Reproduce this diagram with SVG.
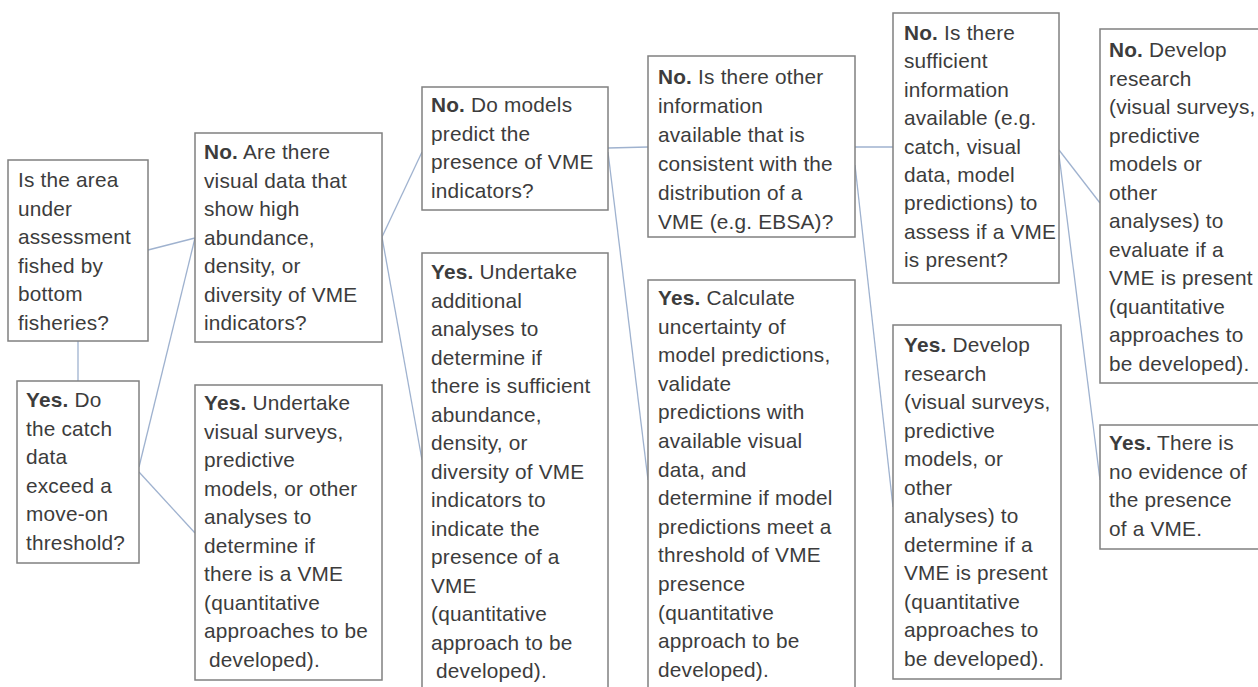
<svg xmlns="http://www.w3.org/2000/svg" width="1258" height="687" viewBox="0 0 1258 687">
<style>
.box{fill:#ffffff;stroke:#808080;stroke-width:1.5}
.lbl{font-family:"Liberation Sans",Arial,sans-serif;font-size:20.8px;letter-spacing:0.2px;fill:#3c3c3c}
.b{font-weight:bold}
.conn{stroke:#9fb2cf;stroke-width:1.3;fill:none}
</style>
<rect width="1258" height="687" fill="#ffffff"/>
<g id="connectors">
<line class="conn" x1="148" y1="250" x2="195" y2="238"/>
<line class="conn" x1="78" y1="341" x2="78" y2="381"/>
<line class="conn" x1="139" y1="467" x2="195" y2="238"/>
<line class="conn" x1="139" y1="472" x2="195" y2="533"/>
<line class="conn" x1="382" y1="237" x2="422" y2="152"/>
<line class="conn" x1="382" y1="237" x2="422" y2="460"/>
<line class="conn" x1="608" y1="148" x2="648" y2="147"/>
<line class="conn" x1="608" y1="152" x2="648" y2="480"/>
<line class="conn" x1="855" y1="147" x2="893" y2="147"/>
<line class="conn" x1="855" y1="165" x2="893" y2="507"/>
<line class="conn" x1="1059" y1="150" x2="1100" y2="203"/>
<line class="conn" x1="1059" y1="155" x2="1100" y2="480"/>
</g>
<g id="nodeA">
<rect class="box" x="8" y="160" width="140" height="181"/>
<text class="lbl" x="18" y="187"><tspan x="18">Is the area</tspan><tspan x="18" dy="28.5">under</tspan><tspan x="18" dy="28.5">assessment</tspan><tspan x="18" dy="28.5">fished by</tspan><tspan x="18" dy="28.5">bottom</tspan><tspan x="18" dy="28.5">fisheries?</tspan></text>
</g>
<g id="nodeB">
<rect class="box" x="195" y="133" width="187" height="209"/>
<text class="lbl" x="204" y="159"><tspan x="204" class="b">No.</tspan><tspan> Are there</tspan><tspan x="204" dy="28.5">visual data that</tspan><tspan x="204" dy="28.5">show high</tspan><tspan x="204" dy="28.5">abundance,</tspan><tspan x="204" dy="28.5">density, or</tspan><tspan x="204" dy="28.5">diversity of VME</tspan><tspan x="204" dy="28.5">indicators?</tspan></text>
</g>
<g id="nodeC">
<rect class="box" x="17" y="381" width="122" height="182"/>
<text class="lbl" x="26" y="407"><tspan x="26" class="b">Yes.</tspan><tspan> Do</tspan><tspan x="26" dy="28.5">the catch</tspan><tspan x="26" dy="28.5">data</tspan><tspan x="26" dy="28.5">exceed a</tspan><tspan x="26" dy="28.5">move-on</tspan><tspan x="26" dy="28.5">threshold?</tspan></text>
</g>
<g id="nodeD">
<rect class="box" x="195" y="385" width="187" height="295"/>
<text class="lbl" x="204" y="410"><tspan x="204" class="b">Yes.</tspan><tspan> Undertake</tspan><tspan x="204" dy="28.5">visual surveys,</tspan><tspan x="204" dy="28.5">predictive</tspan><tspan x="204" dy="28.5">models, or other</tspan><tspan x="204" dy="28.5">analyses to</tspan><tspan x="204" dy="28.5">determine if</tspan><tspan x="204" dy="28.5">there is a VME</tspan><tspan x="204" dy="28.5">(quantitative</tspan><tspan x="204" dy="28.5">approaches to be</tspan><tspan x="209" dy="28.5">developed).</tspan></text>
</g>
<g id="nodeE">
<rect class="box" x="422" y="87" width="186" height="123"/>
<text class="lbl" x="431" y="112"><tspan x="431" class="b">No.</tspan><tspan> Do models</tspan><tspan x="431" dy="28.5">predict the</tspan><tspan x="431" dy="28.5">presence of VME</tspan><tspan x="431" dy="28.5">indicators?</tspan></text>
</g>
<g id="nodeF">
<rect class="box" x="422" y="253" width="186" height="440"/>
<text class="lbl" x="431" y="279"><tspan x="431" class="b">Yes.</tspan><tspan> Undertake</tspan><tspan x="431" dy="28.5">additional</tspan><tspan x="431" dy="28.5">analyses to</tspan><tspan x="431" dy="28.5">determine if</tspan><tspan x="431" dy="28.5">there is sufficient</tspan><tspan x="431" dy="28.5">abundance,</tspan><tspan x="431" dy="28.5">density, or</tspan><tspan x="431" dy="28.5">diversity of VME</tspan><tspan x="431" dy="28.5">indicators to</tspan><tspan x="431" dy="28.5">indicate the</tspan><tspan x="431" dy="28.5">presence of a</tspan><tspan x="431" dy="28.5">VME</tspan><tspan x="431" dy="28.5">(quantitative</tspan><tspan x="431" dy="28.5">approach to be</tspan><tspan x="436" dy="28.5">developed).</tspan></text>
</g>
<g id="nodeG">
<rect class="box" x="648" y="56" width="207" height="181"/>
<text class="lbl" x="658" y="84"><tspan x="658" class="b">No.</tspan><tspan> Is there other</tspan><tspan x="658" dy="29">information</tspan><tspan x="658" dy="29">available that is</tspan><tspan x="658" dy="29">consistent with the</tspan><tspan x="658" dy="29">distribution of a</tspan><tspan x="658" dy="29">VME (e.g. EBSA)?</tspan></text>
</g>
<g id="nodeH">
<rect class="box" x="648" y="280" width="207" height="413"/>
<text class="lbl" x="658" y="305"><tspan x="658" class="b">Yes.</tspan><tspan> Calculate</tspan><tspan x="658" dy="28.6">uncertainty of</tspan><tspan x="658" dy="28.6">model predictions,</tspan><tspan x="658" dy="28.6">validate</tspan><tspan x="658" dy="28.6">predictions with</tspan><tspan x="658" dy="28.6">available visual</tspan><tspan x="658" dy="28.6">data, and</tspan><tspan x="658" dy="28.6">determine if model</tspan><tspan x="658" dy="28.6">predictions meet a</tspan><tspan x="658" dy="28.6">threshold of VME</tspan><tspan x="658" dy="28.6">presence</tspan><tspan x="658" dy="28.6">(quantitative</tspan><tspan x="658" dy="28.6">approach to be</tspan><tspan x="658" dy="28.6">developed).</tspan></text>
</g>
<g id="nodeI">
<rect class="box" x="893" y="13" width="166" height="270"/>
<text class="lbl" x="904" y="40"><tspan x="904" class="b">No.</tspan><tspan> Is there</tspan><tspan x="904" dy="28.4">sufficient</tspan><tspan x="904" dy="28.4">information</tspan><tspan x="904" dy="28.4">available (e.g.</tspan><tspan x="904" dy="28.4">catch, visual</tspan><tspan x="904" dy="28.4">data, model</tspan><tspan x="904" dy="28.4">predictions) to</tspan><tspan x="904" dy="28.4">assess if a VME</tspan><tspan x="904" dy="28.4">is present?</tspan></text>
</g>
<g id="nodeJ">
<rect class="box" x="893" y="325" width="168" height="354"/>
<text class="lbl" x="904" y="352"><tspan x="904" class="b">Yes.</tspan><tspan> Develop</tspan><tspan x="904" dy="28.5">research</tspan><tspan x="904" dy="28.5">(visual surveys,</tspan><tspan x="904" dy="28.5">predictive</tspan><tspan x="904" dy="28.5">models, or</tspan><tspan x="904" dy="28.5">other</tspan><tspan x="904" dy="28.5">analyses) to</tspan><tspan x="904" dy="28.5">determine if a</tspan><tspan x="904" dy="28.5">VME is present</tspan><tspan x="904" dy="28.5">(quantitative</tspan><tspan x="904" dy="28.5">approaches to</tspan><tspan x="904" dy="28.5">be developed).</tspan></text>
</g>
<g id="nodeK">
<rect class="box" x="1100" y="29" width="170" height="354"/>
<text class="lbl" x="1109" y="57"><tspan x="1109" class="b">No.</tspan><tspan> Develop</tspan><tspan x="1109" dy="28.5">research</tspan><tspan x="1109" dy="28.5">(visual surveys,</tspan><tspan x="1109" dy="28.5">predictive</tspan><tspan x="1109" dy="28.5">models or</tspan><tspan x="1109" dy="28.5">other</tspan><tspan x="1109" dy="28.5">analyses) to</tspan><tspan x="1109" dy="28.5">evaluate if a</tspan><tspan x="1109" dy="28.5">VME is present</tspan><tspan x="1109" dy="28.5">(quantitative</tspan><tspan x="1109" dy="28.5">approaches to</tspan><tspan x="1109" dy="28.5">be developed).</tspan></text>
</g>
<g id="nodeL">
<rect class="box" x="1100" y="425" width="170" height="124"/>
<text class="lbl" x="1109" y="450"><tspan x="1109" class="b">Yes.</tspan><tspan> There is</tspan><tspan x="1109" dy="28.5">no evidence of</tspan><tspan x="1109" dy="28.5">the presence</tspan><tspan x="1109" dy="28.5">of a VME.</tspan></text>
</g>
</svg>
